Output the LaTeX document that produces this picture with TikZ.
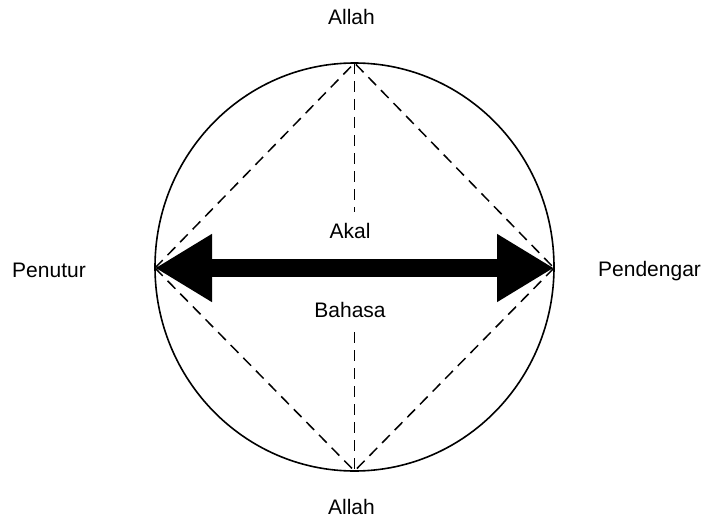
\documentclass[tikz,border=0pt]{standalone}
\usepackage{fontspec}
\setmainfont{Liberation Sans}
\usetikzlibrary{arrows.meta}
\begin{document}
\begin{tikzpicture}[x=1pt,y=-1pt,
  lbl/.style={anchor=base,inner sep=0pt,font=\fontsize{21}{25}\selectfont},
  dashline/.style={line width=1.5pt,dash pattern=on 11pt off 7pt},
  bigarrow/.style={line width=18pt,{Triangle[length=57pt,width=64pt]}-{Triangle[length=57pt,width=64pt]}}]
\useasboundingbox (0,0) rectangle (714,524);
% outer circle
\draw[line width=1.6pt] (354.5,267) ellipse [x radius=199.5, y radius=204];
% vertices
\coordinate (L) at (155,268);
\coordinate (R) at (554,268);
\coordinate (T) at (354.5,63);
\coordinate (B) at (354.5,471);
\coordinate (Te) at (354.5,212);
\coordinate (Bs) at (354.5,332);
% dashed lines
\draw[dashline] (L) -- (T) -- (R);
\draw[dashline] (L) -- (B) -- (R);
\draw[dashline] (T) -- (Te);
\draw[dashline] (Bs) -- (B);
% arrow
\draw[bigarrow] (L) -- (R);
% labels
\node[lbl] (allahT) at (351.5,25) {Allah};
\node[lbl] (allahB) at (351.5,514) {Allah};
\node[lbl] (penutur) at (49,277) {Penutur};
\node[lbl,anchor=base west] (pendengar) at (598,276) {Pendengar};
\node[lbl] (akal) at (350,238) {Akal};
\node[lbl] (bahasa) at (350,317) {Bahasa};
\end{tikzpicture}
\end{document}
